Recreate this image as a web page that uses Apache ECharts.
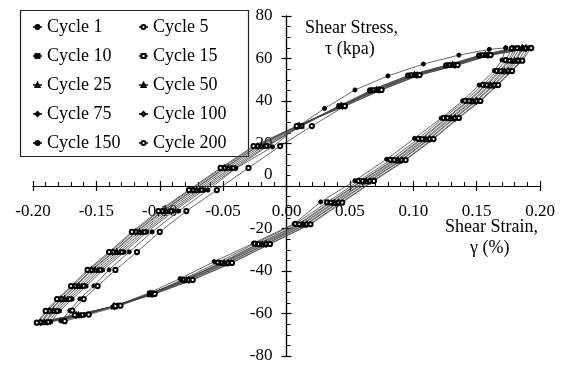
<!DOCTYPE html>
<html lang="en">
<head>
<meta charset="UTF-8">
<title>Shear stress - shear strain loops</title>
<script src="https://cdn.jsdelivr.net/npm/echarts@6/dist/echarts.min.js"></script>
</head>
<body style="margin:0;background:#fff">
<div id="main" style="width:563px;height:367px;"></div>
<script type="text/javascript">
// strain (%) , stress (kPa) pairs
var cycle1 = [[0.173,65.0],[0.160,64.3],[0.136,61.6],[0.108,57.4],[0.080,51.8],[0.054,45.2],[0.030,36.5],[0.008,27.6],[-0.011,18.4],[-0.040,8.3],
  [-0.062,-1.9],[-0.085,-11.8],[-0.106,-21.6],[-0.124,-31.0],[-0.140,-39.4],[-0.152,-47.0],[-0.163,-53.1],[-0.171,-58.6],[-0.178,-63.5],
  [-0.157,-60.3],[-0.133,-56.0],[-0.108,-50.2],[-0.084,-43.6],[-0.057,-35.6],[-0.026,-26.9],[0.006,-17.8],[0.027,-7.5],[0.054,2.5],[0.079,12.6],
  [0.101,22.4],[0.122,31.9],[0.139,40.1],[0.152,47.5],[0.164,54.3],[0.170,59.3],[0.173,65.0]];
var cycle5 = [[0.178,64.8],[0.152,61.4],[0.126,56.8],[0.096,52.0],[0.066,45.0],[0.046,37.6],[0.020,28.2],[-0.005,18.8],[-0.030,8.5],[-0.055,-1.9],
  [-0.079,-11.8],[-0.100,-21.6],[-0.118,-31.1],[-0.135,-39.5],[-0.149,-47.1],[-0.160,-53.2],[-0.169,-58.6],[-0.175,-63.6],
  [-0.156,-60.5],[-0.131,-56.3],[-0.106,-50.6],[-0.082,-44.0],[-0.054,-36.0],[-0.025,-27.1],[0.007,-17.8],[0.032,-7.7],[0.057,2.4],[0.082,12.3],
  [0.104,22.2],[0.124,32.1],[0.141,40.1],[0.155,47.6],[0.166,54.2],[0.173,59.2],[0.178,64.8]];
var cycle10 = [[0.180,64.7],[0.153,61.5],[0.127,56.9],[0.097,52.1],[0.067,45.1],[0.041,37.6],[0.011,28.2],[-0.015,18.8],[-0.040,8.5],[-0.065,-1.9],
  [-0.089,-11.8],[-0.110,-21.6],[-0.128,-31.1],[-0.145,-39.5],[-0.158,-47.1],[-0.169,-53.2],[-0.179,-58.8],[-0.186,-64.0],
  [-0.160,-60.7],[-0.135,-56.5],[-0.108,-50.8],[-0.081,-44.2],[-0.052,-36.2],[-0.023,-27.3],[0.009,-18.0],[0.034,-7.8],[0.059,2.4],[0.084,12.2],
  [0.106,22.1],[0.126,32.0],[0.143,40.0],[0.157,47.5],[0.168,54.1],[0.175,59.0],[0.180,64.7]];
var cycle15 = [[0.182,64.8],[0.155,61.6],[0.129,56.9],[0.099,52.2],[0.069,45.2],[0.042,37.6],[0.012,28.2],[-0.016,18.8],[-0.042,8.5],[-0.067,-1.9],
  [-0.091,-11.8],[-0.112,-21.6],[-0.130,-31.1],[-0.147,-39.5],[-0.160,-47.1],[-0.171,-53.2],[-0.181,-58.8],[-0.188,-64.0],
  [-0.161,-60.7],[-0.135,-56.5],[-0.108,-50.8],[-0.081,-44.2],[-0.051,-36.2],[-0.022,-27.3],[0.010,-18.0],[0.035,-7.8],[0.060,2.4],[0.085,12.2],
  [0.107,22.1],[0.127,32.0],[0.144,40.0],[0.158,47.5],[0.169,54.1],[0.176,59.0],[0.182,64.8]];
var cycle25 = [[0.184,64.9],[0.156,61.6],[0.130,56.9],[0.100,52.2],[0.070,45.2],[0.042,37.6],[0.011,28.2],[-0.018,18.8],[-0.044,8.5],[-0.069,-1.9],
  [-0.093,-11.8],[-0.114,-21.6],[-0.132,-31.1],[-0.149,-39.5],[-0.162,-47.1],[-0.173,-53.2],[-0.183,-58.8],[-0.190,-64.0],
  [-0.163,-60.7],[-0.136,-56.5],[-0.108,-50.8],[-0.080,-44.2],[-0.050,-36.2],[-0.020,-27.3],[0.012,-18.0],[0.037,-7.8],[0.062,2.4],[0.087,12.2],
  [0.109,22.1],[0.129,32.0],[0.146,40.0],[0.160,47.5],[0.171,54.1],[0.178,59.0],[0.184,64.9]];
var cycle50 = [[0.186,64.9],[0.157,61.7],[0.131,57.0],[0.101,52.3],[0.071,45.3],[0.043,37.7],[0.010,28.3],[-0.020,18.9],[-0.046,8.6],[-0.071,-1.8],
  [-0.095,-11.7],[-0.116,-21.5],[-0.134,-31.0],[-0.151,-39.4],[-0.164,-47.0],[-0.175,-53.1],[-0.184,-58.7],[-0.191,-64.1],
  [-0.164,-60.8],[-0.136,-56.6],[-0.107,-50.9],[-0.079,-44.3],[-0.049,-36.3],[-0.019,-27.4],[0.013,-18.1],[0.038,-7.9],[0.063,2.3],[0.088,12.1],
  [0.110,22.0],[0.130,31.9],[0.147,39.9],[0.161,47.4],[0.172,54.0],[0.180,59.0],[0.186,64.9]];
var cycle75 = [[0.187,65.0],[0.158,61.7],[0.132,57.0],[0.102,52.3],[0.072,45.3],[0.043,37.7],[0.009,28.3],[-0.022,18.9],[-0.048,8.6],[-0.073,-1.8],
  [-0.097,-11.7],[-0.118,-21.5],[-0.136,-31.0],[-0.153,-39.4],[-0.166,-47.0],[-0.177,-53.1],[-0.186,-58.7],[-0.193,-64.2],
  [-0.165,-60.8],[-0.136,-56.6],[-0.106,-50.9],[-0.078,-44.3],[-0.047,-36.3],[-0.017,-27.4],[0.015,-18.1],[0.040,-7.9],[0.065,2.3],[0.090,12.1],
  [0.112,22.0],[0.132,31.9],[0.149,39.9],[0.163,47.4],[0.174,54.0],[0.181,59.1],[0.187,65.0]];
var cycle100 = [[0.189,64.9],[0.159,61.6],[0.133,56.9],[0.103,52.2],[0.073,45.2],[0.044,37.6],[0.009,28.2],[-0.023,18.8],[-0.049,8.5],[-0.074,-1.9],
  [-0.098,-11.8],[-0.119,-21.6],[-0.137,-31.1],[-0.154,-39.5],[-0.167,-47.1],[-0.178,-53.2],[-0.187,-58.8],[-0.194,-64.1],
  [-0.166,-60.7],[-0.136,-56.5],[-0.106,-50.8],[-0.077,-44.2],[-0.046,-36.2],[-0.016,-27.3],[0.016,-18.0],[0.041,-7.8],[0.066,2.4],[0.091,12.2],
  [0.113,22.1],[0.133,32.0],[0.150,40.0],[0.164,47.5],[0.175,54.1],[0.183,59.0],[0.189,64.9]];
var cycle150 = [[0.191,64.8],[0.160,61.5],[0.134,56.8],[0.104,52.1],[0.074,45.1],[0.045,37.5],[0.008,28.1],[-0.025,18.7],[-0.051,8.4],[-0.076,-2.0],
  [-0.100,-11.9],[-0.121,-21.7],[-0.139,-31.2],[-0.156,-39.6],[-0.169,-47.2],[-0.180,-53.3],[-0.189,-58.9],[-0.196,-64.2],
  [-0.166,-60.8],[-0.135,-56.6],[-0.105,-50.9],[-0.075,-44.3],[-0.044,-36.3],[-0.014,-27.4],[0.018,-18.1],[0.043,-7.9],[0.068,2.3],[0.093,12.1],
  [0.115,22.0],[0.135,31.9],[0.152,39.9],[0.166,47.4],[0.177,54.0],[0.185,58.9],[0.191,64.8]];
var cycle200 = [[0.193,64.9],[0.161,61.6],[0.135,56.9],[0.105,52.2],[0.075,45.2],[0.046,37.6],[0.008,28.2],[-0.026,18.8],[-0.052,8.5],[-0.077,-1.9],
  [-0.101,-11.8],[-0.122,-21.6],[-0.140,-31.1],[-0.157,-39.5],[-0.170,-47.1],[-0.181,-53.2],[-0.190,-58.8],[-0.197,-64.3],
  [-0.167,-60.7],[-0.135,-56.5],[-0.104,-50.8],[-0.074,-44.2],[-0.043,-36.2],[-0.013,-27.3],[0.019,-18.0],[0.044,-7.8],[0.069,2.4],[0.094,12.2],
  [0.116,22.1],[0.136,32.0],[0.153,40.0],[0.167,47.5],[0.178,54.1],[0.186,59.0],[0.193,64.9]];

var cycleNames = ['Cycle 1', 'Cycle 5', 'Cycle 10', 'Cycle 15', 'Cycle 25', 'Cycle 50', 'Cycle 75', 'Cycle 100', 'Cycle 150', 'Cycle 200'];
var cycleData = [cycle1, cycle5, cycle10, cycle15, cycle25, cycle50, cycle75, cycle100, cycle150, cycle200];
var cycleSymbols = ['circle', 'emptyCircle', 'rect', 'emptyRect', 'triangle', 'emptyTriangle', 'diamond', 'emptyDiamond', 'circle', 'emptyCircle'];
var leftColumn = ['Cycle 1', 'Cycle 10', 'Cycle 25', 'Cycle 75', 'Cycle 150'];
var rightColumn = ['Cycle 5', 'Cycle 15', 'Cycle 50', 'Cycle 100', 'Cycle 200'];

var FONT = 'Liberation Serif';

var myChart = echarts.init(document.getElementById('main'));

var series = cycleNames.map(function (name, i) {
    var sym = cycleSymbols[i];
    var size = /rect/i.test(sym) ? 3.5 : (/iamond/.test(sym) ? 5 : 4.2);
    return {
        name: name,
        type: 'line',
        xAxisIndex: 0,
        yAxisIndex: 0,
        data: cycleData[i],
        symbol: sym,
        symbolSize: size,
        showAllSymbol: true,
        lineStyle: { color: '#444', width: 0.8 },
        itemStyle: { color: '#000', borderColor: '#000', borderWidth: 0.8 },
        emphasis: { disabled: true }
    };
});

function legendCol(left, names) {
    return {
        data: names,
        orient: 'vertical',
        left: left,
        top: 13,
        itemWidth: 9,
        itemHeight: 5,
        itemGap: 11,
        selectedMode: false,
        textStyle: { fontFamily: FONT, fontSize: 18, color: '#000', lineHeight: 18 }
    };
}

// grid: x from 33 to 540, y from 16 to 356 -> zero lines at x=286.5, y=186
var X_SHIFT = -170;
var Y_SHIFT = -253.5;
var lineCol = { color: '#000', width: 1.2 };

function xAxisOf(inside, labels) {
    return {
        type: 'value', min: -0.2, max: 0.2, interval: 0.05, position: 'bottom', offset: X_SHIFT,
        axisLine: { onZero: false, lineStyle: lineCol },
        axisTick: { inside: inside, length: 5, lineStyle: lineCol },
        minorTick: { show: inside, splitNumber: 5, length: 4, lineStyle: { color: '#000', width: 1 } },
        axisLabel: labels ? { fontFamily: FONT, fontSize: 17, color: '#000', margin: 17,
            formatter: function (v) { return v.toFixed(2); }, showMinLabel: true, showMaxLabel: true } : { show: false },
        splitLine: { show: false }
    };
}

function yAxisOf(inside, labels) {
    return {
        type: 'value', min: -80, max: 80, interval: 20, position: 'left', offset: Y_SHIFT,
        axisLine: { onZero: false, lineStyle: lineCol },
        axisTick: { inside: inside, length: 5, lineStyle: lineCol },
        minorTick: { show: inside, splitNumber: 4, length: 4, lineStyle: { color: '#000', width: 1 } },
        axisLabel: labels ? {
            fontFamily: FONT, fontSize: 17, color: '#000', margin: 14,
            formatter: function (v) { return v === 0 ? '{z|0}' : String(v); },
            rich: { z: { fontFamily: FONT, fontSize: 17, color: '#000', padding: [0, 0, 22, 0] } }
        } : { show: false },
        splitLine: { show: false }
    };
}

option = {
    animation: false,
    backgroundColor: '#fff',
    grid: { left: 33, right: 23, top: 16, bottom: 11, outerBoundsMode: 'none', containLabel: false },
    legend: [legendCol(27, leftColumn), legendCol(133, rightColumn)],
    xAxis: [xAxisOf(true, true), xAxisOf(false, false)],
    yAxis: [yAxisOf(true, false), yAxisOf(false, true)],
    graphic: [
        { type: 'rect', shape: { x: 20.5, y: 10.5, width: 228, height: 146 }, style: { fill: 'none', stroke: '#222', lineWidth: 1.2 }, silent: true },
        { type: 'text', left: 305, top: 19, style: { text: 'Shear Stress,', font: '18px "Liberation Serif"', fill: '#000' } },
        { type: 'text', left: 325, top: 40, style: { text: 'τ (kpa)', font: '18px "Liberation Serif"', fill: '#000' } },
        { type: 'text', left: 445, top: 218, style: { text: 'Shear Strain,', font: '18px "Liberation Serif"', fill: '#000' } },
        { type: 'text', left: 470, top: 239, style: { text: 'γ (%)', font: '18px "Liberation Serif"', fill: '#000' } }
    ],
    series: series
};

myChart.setOption(option);
</script>
</body>
</html>
